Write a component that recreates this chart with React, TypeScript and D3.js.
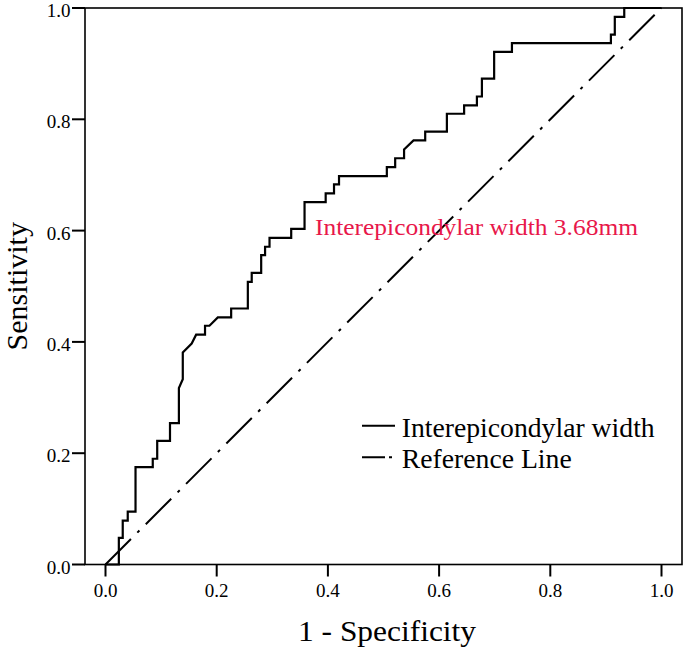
import React from "react";
import * as d3 from "d3";

// ROC curve vertices (1 - specificity, sensitivity)
const fpr = [0, 0.024, 0.024, 0.031, 0.031, 0.040, 0.040, 0.054, 0.054, 0.085, 0.085, 0.093, 0.093, 0.116, 0.116, 0.132, 0.132, 0.139, 0.139,
  0.155, 0.163, 0.179, 0.179, 0.187, 0.202, 0.226, 0.226, 0.256, 0.256, 0.263, 0.263, 0.280, 0.280, 0.287, 0.287, 0.295, 0.295,
  0.334, 0.334, 0.358, 0.358, 0.396, 0.396, 0.411, 0.411, 0.420, 0.420, 0.506, 0.506, 0.521, 0.521, 0.537, 0.537, 0.554,
  0.575, 0.575, 0.614, 0.614, 0.645, 0.645, 0.668, 0.668, 0.677, 0.677, 0.699, 0.699, 0.731, 0.731, 0.909, 0.909, 0.916, 0.916,
  0.933, 0.933, 1.0];
const tpr = [0, 0, 0.048, 0.048, 0.079, 0.079, 0.095, 0.095, 0.175, 0.175, 0.190, 0.190, 0.222, 0.222, 0.254, 0.254, 0.317, 0.333, 0.381,
  0.397, 0.413, 0.413, 0.429, 0.429, 0.444, 0.444, 0.460, 0.460, 0.508, 0.508, 0.524, 0.524, 0.556, 0.556, 0.571, 0.571, 0.587,
  0.587, 0.603, 0.603, 0.651, 0.651, 0.667, 0.667, 0.683, 0.683, 0.698, 0.698, 0.714, 0.714, 0.730, 0.730, 0.746, 0.762,
  0.762, 0.778, 0.778, 0.810, 0.810, 0.825, 0.825, 0.841, 0.841, 0.873, 0.873, 0.921, 0.921, 0.937, 0.937, 0.952, 0.952, 0.984,
  0.984, 1.0, 1.0];
const refX = [0, 1];
const refY = [0, 1];
const xTicks = [0, 0.2, 0.4, 0.6, 0.8, 1.0];
const yTicks = [0, 0.2, 0.4, 0.6, 0.8, 1.0];
const xTitle = "1 - Specificity";
const yTitle = "Sensitivity";
const legendLabels = ["Interepicondylar width", "Reference Line"];
const annotationText = "Interepicondylar width 3.68mm";

const FONT = "'Liberation Serif', 'Times New Roman', serif";

export default function App() {
  const frame = { left: 85, right: 682, top: 8, bottom: 564.5 };
  const x = d3.scaleLinear().domain([0, 1]).range([105.5, 661.5]);
  const y = d3.scaleLinear().domain([0, 1]).range([564.5, 8]);
  const line = d3.line<[number, number]>().x((d) => x(d[0])).y((d) => y(d[1]));
  const rocPts = fpr.map((v, i) => [v, tpr[i]] as [number, number]);
  const refPts = refX.map((v, i) => [v, refY[i]] as [number, number]);
  const dash = "36,9,3,9";

  return (
    <svg width={685} height={648} style={{ position: "absolute", left: 0, top: 0, background: "#fff" }}
      fontFamily={FONT}>
      <rect x={0} y={0} width={685} height={648} fill="#fff" />
      {/* reference line */}
      <path d={line(refPts) || ""} fill="none" stroke="#000" strokeWidth={2} strokeDasharray={dash} />
      {/* ROC curve */}
      <path d={line(rocPts) || ""} fill="none" stroke="#000" strokeWidth={2.2} strokeLinejoin="miter" />
      {/* frame */}
      <rect x={frame.left} y={frame.top} width={frame.right - frame.left} height={frame.bottom - frame.top}
        fill="none" stroke="#000" strokeWidth={1.6} />
      {/* y ticks */}
      {yTicks.map((t) => (
        <g key={"y" + t}>
          <line x1={72} x2={frame.left} y1={y(t)} y2={y(t)} stroke="#000" strokeWidth={2} />
          <text x={70.5} y={y(t) + 9} textAnchor="end" fontSize={19} fill="#000">{d3.format(".1f")(t)}</text>
        </g>
      ))}
      {/* x ticks */}
      {xTicks.map((t) => (
        <g key={"x" + t}>
          <line x1={x(t)} x2={x(t)} y1={frame.bottom} y2={frame.bottom + 12} stroke="#000" strokeWidth={2} />
          <text x={x(t)} y={596.5} textAnchor="middle" fontSize={19} fill="#000">{d3.format(".1f")(t)}</text>
        </g>
      ))}
      {/* axis titles */}
      <text x={298} y={640.5} fontSize={30} fill="#000" textLength={178} lengthAdjust="spacingAndGlyphs">{xTitle}</text>
      <text transform={`translate(27,${(frame.top + frame.bottom) / 2}) rotate(-90)`} textAnchor="middle" fontSize={30} fill="#000">{yTitle}</text>
      {/* annotation */}
      <text x={315} y={235} fontSize={24} fill="#e8174a" textLength={323} lengthAdjust="spacingAndGlyphs">{annotationText}</text>
      {/* legend */}
      <line x1={362} x2={395} y1={425.7} y2={425.7} stroke="#000" strokeWidth={2} />
      <text x={401.7} y={436.7} fontSize={27} fill="#000" textLength={253} lengthAdjust="spacingAndGlyphs">{legendLabels[0]}</text>
      <line x1={362} x2={392} y1={457.3} y2={457.3} stroke="#000" strokeWidth={2} strokeDasharray="23,4,3,100" />
      <text x={401.7} y={468.3} fontSize={27} fill="#000" textLength={170} lengthAdjust="spacingAndGlyphs">{legendLabels[1]}</text>
    </svg>
  );
}
